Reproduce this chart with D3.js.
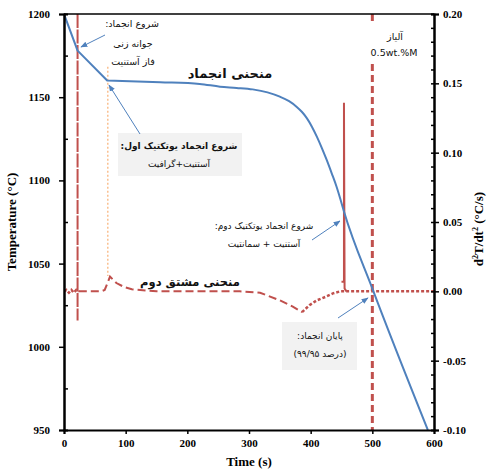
<!DOCTYPE html>
<html>
<head>
<meta charset="utf-8">
<script src="https://cdn.jsdelivr.net/npm/d3@7"></script>
<style>
  body { margin: 0; background: #fff; }
  .tick text { font-family: "Liberation Serif", serif; font-weight: bold; font-size: 11px; }
  .fa { font-family: "DejaVu Sans", sans-serif; direction: rtl; }
</style>
</head>
<body>
<svg id="chart" width="488" height="472"></svg>
<script>
// cooling curve: time (s), temperature (°C)
const coolTime = [0, 22, 70, 156, 220, 253, 280, 306, 330, 350, 365, 377, 386, 394, 402, 410, 418, 426, 434, 442, 448, 454, 501, 590];
const coolTemp = [1200, 1178, 1160, 1159, 1158, 1156.3, 1155.6, 1154.7, 1152.9, 1150.3, 1147.6, 1144.3, 1141.1, 1137.3, 1132.3, 1126.3, 1119.6, 1112.3, 1104.4, 1096.2, 1089, 1081.3, 1034, 950];

// second derivative, smooth part: time (s), d2T/dt2
const derivTime = [24, 40, 60, 66, 74.6, 85, 98, 110, 150, 200, 250, 285, 318, 350, 371, 386];
const derivVal = [0, 0, 0, 0.001, 0.0106, 0.006, 0.003, 0.0015, 0, 0, 0, 0, -0.001, -0.0065, -0.011, -0.015];

// second derivative, noisy part
const noiseTime = [0, 4, 8, 12, 16, 20, 24];
const noiseVal = [0, 0.001, -0.001, 0.001, -0.001, 0.001, 0];
const noise2Time = [386, 398, 410, 424, 436, 448, 454, 470, 500, 530, 560, 600];
const noise2Val = [-0.015, -0.01, -0.0065, -0.004, -0.0015, 0, 0, 0, 0, 0, 0, 0];

// spikes
const spike1Time = [22, 22];
const spike1Val = [0.2, -0.021];
const spike2Time = [450, 454, 454, 455, 458];
const spike2Val = [0.007, 0.007, 0.136, 0.002, 0];

// end of solidification marker at 500 s, nucleation marker at 71 s
const endLineTime = 500;
const eutLineTime = 71;

const xTicks = [0, 100, 200, 300, 400, 500, 600];
const yTicks = [950, 1000, 1050, 1100, 1150, 1200];
const y2Ticks = [-0.10, -0.05, 0.00, 0.05, 0.10, 0.15, 0.20];

const margin = { top: 14, right: 54, bottom: 42, left: 64 };
const width = 488 - margin.left - margin.right;
const height = 472 - margin.top - margin.bottom;

const svg = d3.select("#chart");
const g = svg.append("g").attr("transform", `translate(${margin.left},${margin.top})`);

const x = d3.scaleLinear().domain([0, 600]).range([0, width]);
const y = d3.scaleLinear().domain([950, 1200]).range([height, 0]);
const y2 = d3.scaleLinear().domain([-0.10, 0.20]).range([height, 0]);

const red = "#C0504D";
const blue = "#4F81BD";

g.append("clipPath").attr("id", "clip")
  .append("rect").attr("width", width).attr("height", height);
const plot = g.append("g").attr("clip-path", "url(#clip)");

const line2 = d3.line().x(d => x(d[0])).y(d => y2(d[1]));
const zip = (a, b) => a.map((v, i) => [v, b[i]]);

// orange dotted marker
plot.append("path")
  .attr("d", line2([[eutLineTime, 0.162], [eutLineTime, 0.011]]))
  .attr("stroke", "#FAC090").attr("stroke-width", 1.5)
  .attr("stroke-dasharray", "2,2").attr("fill", "none");

// derivative curve
plot.append("path")
  .attr("d", line2(zip(derivTime, derivVal)))
  .attr("stroke", red).attr("stroke-width", 2)
  .attr("stroke-dasharray", "8,4").attr("fill", "none");

[zip(noiseTime, noiseVal), zip(noise2Time, noise2Val)].forEach(pts => {
  plot.append("path")
    .attr("d", line2(pts))
    .attr("stroke", red).attr("stroke-width", 2.5)
    .attr("stroke-dasharray", "3,2").attr("fill", "none");
});

plot.append("path")
  .attr("d", line2(zip(spike1Time, spike1Val)))
  .attr("stroke", red).attr("stroke-width", 2)
  .attr("stroke-dasharray", "14,1.5").attr("fill", "none");

plot.append("path")
  .attr("d", line2(zip(spike2Time, spike2Val)))
  .attr("stroke", red).attr("stroke-width", 2).attr("fill", "none");

// end marker line, broken for label
[[0.2, 0.193], [0.164, -0.10]].forEach(r => {
  plot.append("path")
    .attr("d", line2([[endLineTime, r[0]], [endLineTime, r[1]]]))
    .attr("stroke", red).attr("stroke-width", 3)
    .attr("stroke-dasharray", "7,4").attr("fill", "none");
});

// cooling curve: straight start, smooth after the eutectic arrest
const cool = zip(coolTime, coolTemp);
const lineT = d3.line().x(d => x(d[0])).y(d => y(d[1]));
plot.append("path")
  .attr("d", lineT(cool.slice(0, 3)) + lineT.curve(d3.curveMonotoneX)(cool.slice(2)).replace(/^M/, "L"))
  .attr("stroke", blue).attr("stroke-width", 2).attr("fill", "none")
  .attr("stroke-linejoin", "round");

// frame + axes
g.append("line").attr("x1", 0).attr("x2", width).attr("y1", 0).attr("y2", 0)
  .attr("stroke", "#000").attr("stroke-width", 1.5);

g.append("g").attr("transform", `translate(0,${height})`)
  .call(d3.axisBottom(x).tickValues(xTicks).tickSize(4).tickPadding(5).tickFormat(d3.format("d")));
g.append("g")
  .call(d3.axisLeft(y).tickValues(yTicks).tickSize(5).tickPadding(9).tickFormat(d3.format("d")));
g.append("g").call(d3.axisRight(y).tickValues(d3.range(975, 1200, 50)).tickSize(4).tickFormat(""));
const y2Axis = g.append("g").attr("transform", `translate(${width},0)`)
  .call(d3.axisRight(y2).tickValues(y2Ticks).tickSize(5).tickPadding(4).tickFormat(d3.format(".2f")));
g.append("g").attr("transform", `translate(${width},0)`)
  .call(d3.axisLeft(y2).tickValues(d3.range(-0.09, 0.2, 0.01)).tickSize(3).tickFormat(""));

g.selectAll(".domain").attr("stroke", "#000").attr("stroke-width", 2);
g.selectAll(".tick line").attr("stroke", "#000").attr("stroke-width", 1.5);
y2Axis.selectAll(".tick text").text(d => d3.format(".2f")(d).replace("−", "-"));

// axis titles
const serif = "'Liberation Serif', serif";
svg.append("text").attr("transform", "translate(16,222) rotate(-90)")
  .attr("text-anchor", "middle").attr("font-family", serif).attr("font-weight", "bold")
  .attr("font-size", 13).text("Temperature (°C)");
svg.append("text").attr("x", 249).attr("y", 466)
  .attr("text-anchor", "middle").attr("font-family", serif).attr("font-weight", "bold")
  .attr("font-size", 13).text("Time (s)");
const rt = svg.append("text").attr("transform", "translate(483,229) rotate(-90)")
  .attr("text-anchor", "middle").attr("font-family", serif).attr("font-weight", "bold")
  .attr("font-size", 13);
rt.append("tspan").text("d");
rt.append("tspan").attr("font-size", 8).attr("dy", -5).text("2");
rt.append("tspan").attr("dy", 5).text("T/dt");
rt.append("tspan").attr("font-size", 8).attr("dy", -5).text("2");
rt.append("tspan").attr("dy", 5).text(" (°C/s)");

// annotation boxes
const boxes = [
  { x: 118, y: 133, w: 124, h: 43 },
  { x: 282, y: 322, w: 75, h: 48 }
];
boxes.forEach(b => {
  svg.append("rect").attr("x", b.x).attr("y", b.y).attr("width", b.w).attr("height", b.h)
    .attr("fill", "#F2F2F2");
});

// annotation arrows
const defs = svg.append("defs");
defs.append("marker").attr("id", "arr").attr("viewBox", "0 0 10 10")
  .attr("refX", 9).attr("refY", 5).attr("markerWidth", 7).attr("markerHeight", 7)
  .attr("orient", "auto")
  .append("path").attr("d", "M0,1 L10,5 L0,9 Z").attr("fill", blue);

const arrows = [
  [105, 35, 81, 47],
  [140, 134, 109, 85],
  [312, 240, 340, 221],
  [338, 318, 368, 298]
];
arrows.forEach(a => {
  svg.append("line").attr("x1", a[0]).attr("y1", a[1]).attr("x2", a[2]).attr("y2", a[3])
    .attr("stroke", blue).attr("stroke-width", 1).attr("marker-end", "url(#arr)");
});

// annotation texts
const labels = [
  { t: "شروع انجماد:", x: 132, y: 27, s: 9.5, b: false },
  { t: "جوانه زنی", x: 133, y: 47, s: 9.5, b: false },
  { t: "فاز آستنیت", x: 133, y: 65, s: 9.5, b: false },
  { t: "منحنی انجماد", x: 230, y: 78, s: 13, b: true },
  { t: "شروع انجماد یوتکتیک اول:", x: 179, y: 149, s: 9, b: true },
  { t: "آستنیت+گرافیت", x: 179, y: 167, s: 9, b: false },
  { t: "شروع انجماد یوتکتیک دوم:", x: 264, y: 229, s: 9, b: false },
  { t: "آستنیت + سمانتیت", x: 264, y: 247, s: 9, b: false },
  { t: "منحنی مشتق دوم", x: 190, y: 286, s: 11.5, b: true },
  { t: "پایان انجماد:", x: 320, y: 339, s: 9, b: false },
  { t: "(درصد ۹۹/۹۵)", x: 320, y: 357, s: 9, b: false },
  { t: "آلیاز", x: 395, y: 40, s: 9.5, b: false }
];
labels.forEach(l => {
  svg.append("text").attr("class", "fa").attr("x", l.x).attr("y", l.y)
    .attr("text-anchor", "middle").attr("font-size", l.s)
    .attr("font-weight", l.b ? "bold" : "normal").attr("fill", "#111")
    .text(l.t);
});
svg.append("text").attr("x", 394).attr("y", 56).attr("text-anchor", "middle")
  .attr("font-family", "'DejaVu Sans', sans-serif").attr("font-size", 9.5)
  .attr("fill", "#111").text("0.5wt.%M");
</script>
</body>
</html>
